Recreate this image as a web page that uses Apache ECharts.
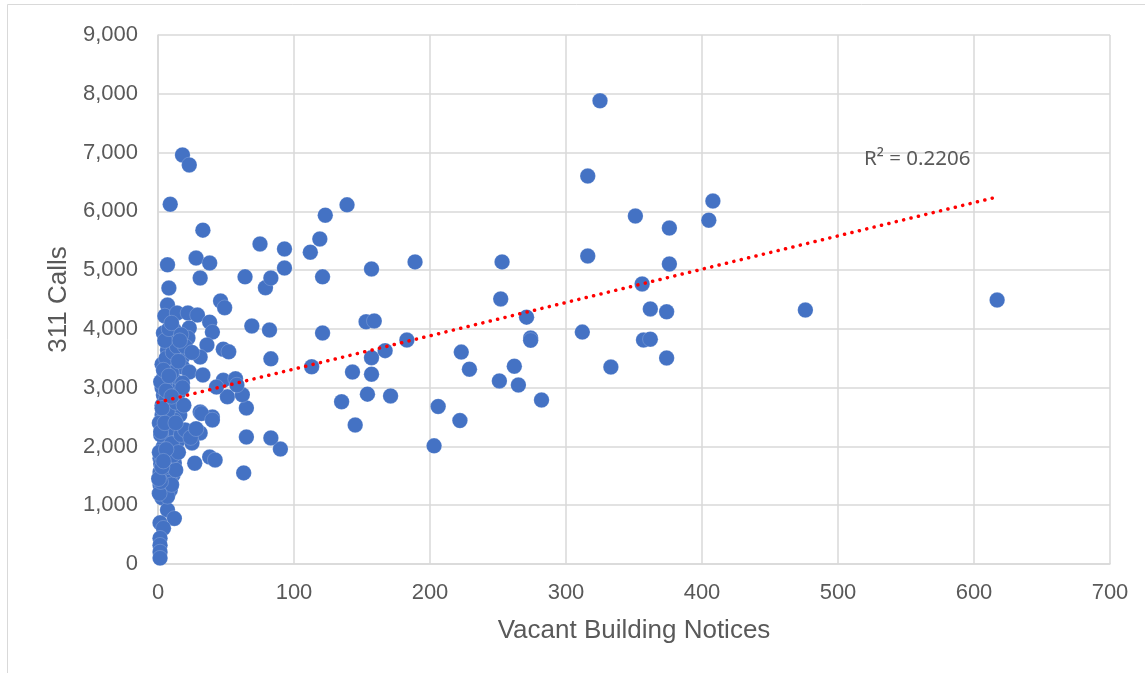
<!DOCTYPE html>
<html>
<head>
<meta charset="utf-8">
<script src="https://cdn.jsdelivr.net/npm/echarts@6/dist/echarts.min.js"></script>
<style>
html,body{margin:0;padding:0;background:#fff;}
#chart{width:1145px;height:673px;}
</style>
</head>
<body>
<div id="chart"></div>
<script>
// Vacant Building Notices (x) vs 311 Calls (y)
const vacantNotices = [
  325,316,351,376,408,405,253,316,376,252,356,362,374,271,312,274,274,357,362,374,333,223,229,262,251,265,282,222,476,617,
  206,203,139,123,119,112,93,93,121,157,189,153,159,121,183,167,157,113,143,157,135,154,171,145,
  90,65,83,63,65,51,62,48,57,83,48,52,69,82,46,49,79,83,64,75,
  33,28,38,7,8,31,18,23,9,7,5,14,22,29,38,40,4,12,23,9,22,36,31,7,18,9,18,23,33,4,12,18,43,58,
  4,15,5,15,31,40,3,16,32,40,3,12,22,31,5,15,25,38,42,27,1.5,12,1.5,11,1.5,9,3,7,12,1.5,4,1.5,1.5,1.5,1.5,
  2,4,6,8,3,6,9,5,10,3,6,11,14,5,8,10,2,5,8,6,9,4,7,10,13,2,10,12,7,13,3,15,20,17,25,19,17,11,1,2,15,
  1,3,2,4,6,1,2,0.5,3,5,
  20,24,28,18,8,10,13,16,6,4
];
const calls311 = [
  7880,6600,5920,5715,6175,5850,5140,5240,5105,4510,4765,4340,4290,4200,3945,3845,3805,3810,3825,3505,3350,3605,3315,3365,3115,3045,2790,2440,4320,4490,
  2680,2010,6110,5935,5530,5305,5360,5035,4885,5020,5140,4120,4135,3930,3810,3630,3510,3355,3265,3230,2760,2890,2860,2365,
  1955,2160,2145,1550,2655,2845,2880,3125,3150,3490,3655,3610,4050,3980,4475,4360,4700,4865,4885,5445,
  5680,5205,5120,5090,4695,4865,6960,6790,6120,4405,4220,4270,4270,4235,4115,3945,3930,3980,4015,3775,3845,3725,3520,3640,3520,3350,3350,3265,3215,3165,3130,3080,3010,3045,
  2875,2910,2670,2585,2585,2500,2535,2535,2560,2450,2365,2315,2245,2230,2110,2110,2060,1820,1770,1715,1800,1720,1565,1515,1345,1260,1125,920,775,700,610,440,320,205,100,
  1900,2000,2200,2300,2700,2800,2950,3050,3250,3400,3500,3600,3700,3800,4000,4100,1700,1650,1550,1450,1400,1250,1150,1350,1600,2200,2050,2450,2600,2750,3000,3450,3700,3900,3600,2700,2200,1850,1200,1400,1900,
  2400,2650,3100,3300,2950,1900,2250,1450,1650,2400,
  2280,2150,2300,3000,3200,2850,2400,3800,1950,1750
];
// trendline endpoints
const trendX = [0, 618];
const trendY = [2750, 6250];
const rSquaredText = 'R² = 0.2206';
const xTicks = {min: 0, max: 700, interval: 100};
const yTicks = {min: 0, max: 9000, interval: 1000};
const xTitle = 'Vacant Building Notices';
const yTitle = '311 Calls';

const points = vacantNotices.map((x, i) => [x, calls311[i]]);
const trend = trendX.map((x, i) => [x, trendY[i]]);

const chart = echarts.init(document.getElementById('chart'), null, {renderer: 'canvas'});
const grey = '#595959';
const gridGrey = '#d9d9d9';
chart.setOption({
  animation: false,
  backgroundColor: '#fff',
  grid: {left: 158, right: 35, top: 35, bottom: 109, containLabel: false},
  graphic: [
    {type: 'rect', shape: {x: 7.5, y: 4.5, width: 1200, height: 700}, style: {fill: 'none', stroke: gridGrey, lineWidth: 1}, z: -10, silent: true},
    {type: 'text', left: 864, top: 149, z: 10, style: {text: rSquaredText, font: '20.5px "Noto Sans"', fill: grey}}
  ],
  xAxis: {
    type: 'value', min: xTicks.min, max: xTicks.max, interval: xTicks.interval,
    name: xTitle, nameLocation: 'middle', nameGap: 54,
    nameTextStyle: {fontFamily: 'Liberation Sans', fontSize: 26, color: grey},
    axisLine: {show: true, lineStyle: {color: gridGrey, width: 1.5}},
    axisTick: {show: false},
    axisLabel: {fontFamily: 'Liberation Sans', fontSize: 22, color: grey, margin: 18},
    splitLine: {show: true, lineStyle: {color: gridGrey, width: 1.5}}
  },
  yAxis: {
    type: 'value', min: yTicks.min, max: yTicks.max, interval: yTicks.interval,
    name: yTitle, nameLocation: 'middle', nameGap: 84, nameRotate: 90,
    nameTextStyle: {fontFamily: 'Liberation Sans', fontSize: 26, color: grey},
    axisLine: {show: true, lineStyle: {color: gridGrey, width: 1.5}},
    axisTick: {show: false},
    axisLabel: {fontFamily: 'Liberation Sans', fontSize: 22, color: grey, margin: 20,
      formatter: v => v.toLocaleString('en-US')},
    splitLine: {show: true, lineStyle: {color: gridGrey, width: 1.5}}
  },
  series: [
    {
      type: 'scatter', data: points, symbol: 'circle', symbolSize: 15.5,
      itemStyle: {color: '#4472C4', borderColor: 'rgba(255,255,255,0.3)', borderWidth: 0.6, opacity: 1},
      z: 2
    },
    {
      type: 'line', data: trend, symbol: 'none', z: 3,
      lineStyle: {color: '#ff0000', width: 3.5, type: [0.1, 7.5], cap: 'round'}
    }
  ]
});
</script>
</body>
</html>
